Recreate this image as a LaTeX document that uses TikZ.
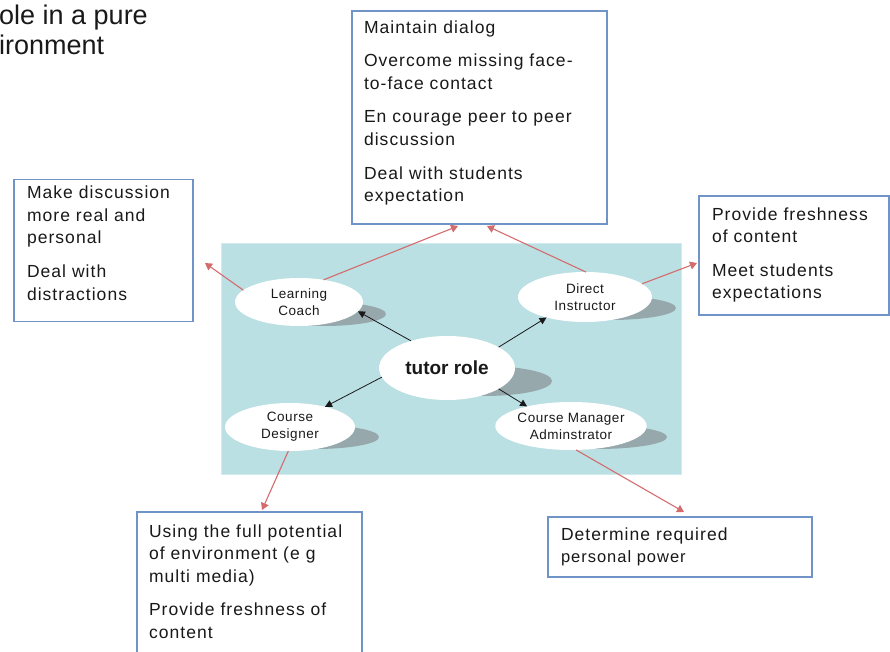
\documentclass[tikz,border=0pt]{standalone}
\usepackage{fontspec}
\setmainfont{Liberation Sans}
\newfontfamily\boxfont[LetterSpace=6]{Liberation Sans}
\newfontfamily\ovalfont[LetterSpace=4]{Liberation Sans}
\usetikzlibrary{shapes.geometric,arrows.meta}
\definecolor{panel}{RGB}{186,224,227}
\definecolor{panelrim}{RGB}{208,236,238}
\definecolor{dropgray}{RGB}{150,168,171}
\definecolor{boxline}{RGB}{112,148,200}
\definecolor{linkred}{RGB}{212,108,110}
\definecolor{ink}{RGB}{25,25,25}
\begin{document}
\begin{tikzpicture}[x=1pt,y=-1pt,
  oval/.style={ellipse, fill=white, inner sep=0pt, outer sep=0pt, align=center,
    text=ink, font=\ovalfont\fontsize{13.5}{17}\selectfont},
  notebox/.style={rectangle, draw=boxline, line width=1.8pt, fill=white,
    inner sep=0pt, outer sep=0pt},
  notetext/.style={anchor=north west, inner sep=0pt, outer sep=0pt, align=left,
    text=ink, font=\boxfont\fontsize{17.5}{22.7}\selectfont},
  titletext/.style={anchor=base west, inner sep=0pt, text=ink,
    font=\fontsize{27}{30}\selectfont},
  spoke/.style={draw=ink, line width=0.8pt, -{Triangle[length=7pt,width=7pt]}},
  reach/.style={draw=linkred, line width=1.1pt, -{Triangle[length=7pt,width=8pt]}},
  drop/.style={fill=dropgray}
]
\useasboundingbox (0,0) rectangle (890,652);

% heading, cut at the left edge
\node[titletext] (head1) at (-1,25) {ole in a pure};
\node[titletext] (head2) at (-1,55) {ironment};

% central panel
\fill[panel] (221,243) rectangle (682,475);
\draw[panelrim, line width=1pt] (221.5,243.5) rectangle (681.5,474.5);

% drop shadows under the ovals
\fill[drop] (324,314) ellipse [x radius=62pt, y radius=12pt];
\fill[drop] (610,308) ellipse [x radius=66pt, y radius=12pt];
\fill[drop] (484,381) ellipse [x radius=68pt, y radius=15pt];
\fill[drop] (315,437) ellipse [x radius=64pt, y radius=12pt];
\fill[drop] (597,437) ellipse [x radius=70pt, y radius=12pt];

% role ovals
\node[oval, minimum width=128pt, minimum height=48pt] (coach) at (299,302) {Learning\\Coach};
\node[oval, minimum width=134pt, minimum height=50pt] (instr) at (585,297) {Direct\\Instructor};
\node[oval, minimum width=136pt, minimum height=64pt,
      font=\fontsize{19}{22}\selectfont\bfseries] (tutor) at (447,368) {tutor role};
\node[oval, minimum width=130pt, minimum height=48pt] (design) at (290,427) {Course\\Designer};
\node[oval, minimum width=142pt, minimum height=48pt] (manage) at (571,426) {Course Manager\\Adminstrator};

% spokes from the centre
\draw[spoke] (tutor.143) -- (coach.-9);
\draw[spoke] (tutor.22) -- (instr.208);
\draw[spoke] (tutor.188) -- (design.30);
\draw[spoke] (tutor.-22) -- (manage.156);

% note boxes
\node[notebox, minimum width=255pt, minimum height=213pt] (dialog) at (479.5,117.5) {};
\node[notebox, minimum width=179pt, minimum height=142pt] (personal) at (103.5,250.5) {};
\node[notebox, minimum width=190pt, minimum height=119pt] (fresh) at (794,255.5) {};
\node[notebox, minimum width=225pt, minimum height=150pt] (media) at (249.5,587) {};
\node[notebox, minimum width=264pt, minimum height=60pt] (power) at (680,547) {};

\node[notetext] (dialogtxt) at (364,19.3) {\rule{0pt}{14pt}Maintain dialog\\[10.8pt]
  Overcome missing face-\\to-face contact\\[10.8pt]
  En courage peer to peer\\discussion\\[10.8pt]
  Deal with students\\expectation};
\node[notetext] (personaltxt) at (27,184.5) {\rule{0pt}{14pt}Make discussion\\more real and\\personal\\[10.8pt]
  Deal with\\distractions};
\node[notetext] (freshtxt) at (712,206) {\rule{0pt}{14pt}Provide freshness\\of content\\[10.8pt]
  Meet students\\expectations};
\node[notetext] (mediatxt) at (149,523) {\rule{0pt}{14pt}Using the full potential\\of environment (e g\\multi media)\\[10.8pt]
  Provide freshness of\\content};
\node[notetext] (powertxt) at (561,526) {\rule{0pt}{14pt}Determine required\\{\fontsize{16.5}{22}\selectfont personal power}};

% links from the ovals to their notes
\coordinate (tipA) at (458,226);
\coordinate (tipB) at (487,226);
\coordinate (tipC) at (205,263);
\coordinate (tipD) at (697,263);
\coordinate (tipE) at (262,510);
\coordinate (tipF) at (684,512);
\draw[reach] (coach.42) -- (tipA);
\draw[reach] (instr.88) -- (tipB);
\draw[reach] (coach.168) -- (tipC);
\draw[reach] (instr.13) -- (tipD);
\draw[reach] (design.266) -- (tipE);
\draw[reach] (manage.-78) -- (tipF);
\end{tikzpicture}
\end{document}
